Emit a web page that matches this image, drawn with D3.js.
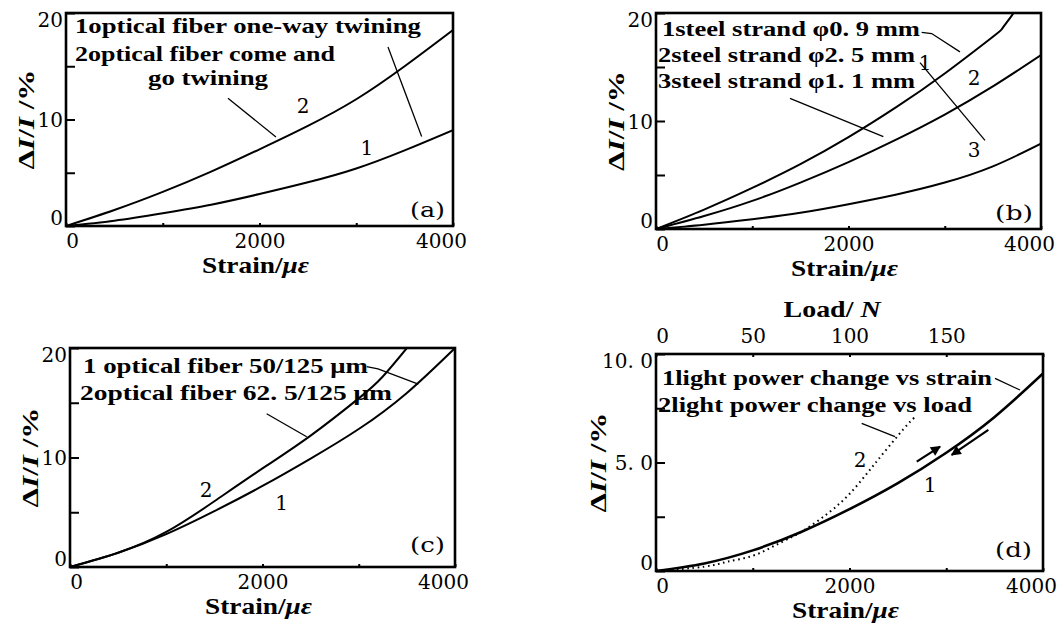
<!DOCTYPE html>
<html lang="en">
<head>
<meta charset="utf-8">
<title>Light power change vs strain</title>
<script src="https://cdnjs.cloudflare.com/ajax/libs/d3/7.8.5/d3.min.js"></script>
<style>
  body { margin: 0; background: #fff; }
  text { font-family: "DejaVu Serif", "Liberation Serif", serif; fill: #000; }
  .lg { font-family: "Liberation Serif", serif; font-weight: bold; }
</style>
</head>
<body>
<svg width="1064" height="626"></svg>
<script>
// strain samples (micro strain)
var strain = [0, 500, 1000, 1500, 2000, 2500, 3000, 3500, 4000];

// (a) optical fiber twining
var oneWay = [0, 0.5, 1.2, 2.0, 3.0, 4.1, 5.4, 7.1, 9.0];
var comeGo = [0, 1.5, 3.2, 5.1, 7.2, 9.4, 11.9, 15.0, 18.4];

// (b) steel strands
var strainB1 = [0, 500, 1000, 1500, 2000, 2500, 3000, 3500, 3600, 3700, 3750];
var strand09 = [0, 1.8, 3.8, 6.0, 8.5, 11.3, 14.4, 17.8, 18.6, 19.8, 20.6];
var strand25 = [0, 1.2, 2.6, 4.3, 6.2, 8.3, 10.6, 13.2, 16.1];
var strand11 = [0, 0.4, 0.9, 1.5, 2.3, 3.2, 4.3, 5.8, 7.9];

// (c) fiber types
var fiber50 = [0, 1.3, 3.0, 5.1, 7.4, 9.9, 12.6, 15.9, 20.0];
var strainC2 = [0, 500, 1000, 1500, 2000, 2500, 3000, 3250, 3500, 3600];
var fiber625 = [0, 1.3, 3.2, 6.0, 9.0, 12.0, 15.4, 17.4, 20.0, 21.1];

// (d) light power vs strain and vs load
var powerStrain = [0, 0.35, 0.95, 1.8, 2.85, 4.05, 5.45, 7.1, 9.1];
var load = [0, 25, 37, 50, 62, 75, 89, 100, 110, 120, 130, 134];
var powerLoad = [0, 0.2, 0.43, 0.7, 1.2, 1.8, 2.67, 3.55, 4.6, 5.7, 6.75, 7.1];

// ticks
var xTicks = [0, 1000, 2000, 3000, 4000];
var xLabels = [0, 2000, 4000];
var yTicks = [0, 5, 10, 15, 20];
var yLabels = [0, 10, 20];
var dTicks = [0, 2.5, 5, 7.5, 10];
var dLabels = {0: "0", 5: "5. 0", 10: "10. 0"};
var loadTicks = [0, 50, 100, 150, 200];
var loadLabels = [0, 50, 100, 150];

var svg = d3.select("svg");

var defs = svg.append("defs");
defs.append("marker")
    .attr("id", "head")
    .attr("viewBox", "0 0 10 10")
    .attr("refX", 9).attr("refY", 5)
    .attr("markerUnits", "userSpaceOnUse")
    .attr("markerWidth", 14).attr("markerHeight", 10)
    .attr("orient", "auto")
  .append("path")
    .attr("d", "M0,0 L10,5 L0,10 z")
    .attr("fill", "#000");

function zip(xs, ys) {
  return ys.map(function(v, i) { return [xs[i], v]; });
}

function panel(id, box, ymax, ticks, fmt, titleOff) {
  var x = d3.scaleLinear().domain([0, 4000]).range([box[0], box[2]]);
  var y = d3.scaleLinear().domain([0, ymax]).range([box[3], box[1]]);
  var g = svg.append("g");

  defs.append("clipPath").attr("id", "clip" + id)
    .append("rect")
      .attr("x", box[0]).attr("y", box[1])
      .attr("width", box[2] - box[0]).attr("height", box[3] - box[1]);

  // x axis
  var xa = g.append("g")
      .attr("transform", "translate(0," + box[3] + ")")
      .call(d3.axisBottom(x).tickValues(xTicks).tickSize(-3).tickPadding(8)
        .tickFormat(function(d) { return xLabels.indexOf(d) >= 0 ? d : ""; }));
  xa.attr("font-family", null).attr("font-size", 20);
  xa.select(".domain").remove();
  xa.selectAll(".tick line").attr("stroke-width", 2);
  xa.selectAll(".tick text")
      .attr("dx", function(d) { return d == 0 ? 6 : d == 4000 ? -12 : 0; });

  // y axis
  var ya = g.append("g")
      .attr("transform", "translate(" + box[0] + ",0)")
      .call(d3.axisLeft(y).tickValues(ticks).tickSize(-9).tickPadding(3)
        .tickFormat(fmt));
  ya.attr("font-family", null).attr("font-size", 20);
  ya.select(".domain").remove();
  ya.selectAll(".tick line").attr("stroke-width", 2);
  ya.selectAll(".tick text")
      .attr("dy", function(d) { return d == 0 ? "-0.1em" : d == ymax ? "0.65em" : "0.35em"; });

  // axis titles
  g.append("text")
      .attr("class", "lg")
      .attr("x", (box[0] + box[2]) / 2 - 4)
      .attr("y", box[3] + 47)
      .attr("text-anchor", "middle")
      .attr("font-size", 23)
      .attr("textLength", 107)
      .attr("lengthAdjust", "spacingAndGlyphs")
      .text("Strain/")
    .append("tspan").attr("font-style", "italic").text("με");

  var yt = g.append("text")
      .attr("class", "lg")
      .attr("transform", "translate(" + (box[0] - titleOff) + "," + ((box[1] + box[3]) / 2) + ") rotate(-90)")
      .attr("text-anchor", "middle")
      .attr("font-size", 23)
      .attr("textLength", 100)
      .attr("lengthAdjust", "spacingAndGlyphs");
  yt.append("tspan").text("Δ");
  yt.append("tspan").attr("font-style", "italic").text("I");
  yt.append("tspan").text("/");
  yt.append("tspan").attr("font-style", "italic").text("I");
  yt.append("tspan").text(" /%");

  return {x: x, y: y, g: g, box: box, id: id};
}

function curve(p, pts, width, dash) {
  var line = d3.line()
      .x(function(d) { return p.x(d[0]); })
      .y(function(d) { return p.y(d[1]); })
      .curve(d3.curveNatural);
  p.g.append("path")
      .attr("clip-path", "url(#clip" + p.id + ")")
      .attr("d", line(pts))
      .attr("fill", "none")
      .attr("stroke", "#000")
      .attr("stroke-width", width)
      .attr("stroke-dasharray", dash || null);
}

function frame(p) {
  var b = p.box;
  p.g.append("rect")
      .attr("x", b[0]).attr("y", b[1])
      .attr("width", b[2] - b[0]).attr("height", b[3] - b[1])
      .attr("fill", "none").attr("stroke", "#000").attr("stroke-width", 2.6);
}

function leader(p, pts, arrow) {
  p.g.append("path")
      .attr("d", d3.line().x(function(d) { return p.x(d[0]); }).y(function(d) { return p.y(d[1]); })(pts))
      .attr("fill", "none").attr("stroke", "#000")
      .attr("stroke-width", arrow ? 2.2 : 1.3)
      .attr("marker-end", arrow ? "url(#head)" : null);
}

function label(p, s, v, str, anchor, size, len, cls) {
  var t = p.g.append("text")
      .attr("class", cls || null)
      .attr("x", p.x(s)).attr("y", p.y(v))
      .attr("text-anchor", anchor || "middle")
      .attr("font-size", size || 20)
      .text(str);
  if (len) t.attr("textLength", len).attr("lengthAdjust", "spacingAndGlyphs");
  return t;
}

function legend(p, s, v, str, len) {
  return label(p, s, v, str, "start", 21, len, "lg");
}

var fmt20 = function(d) { return yLabels.indexOf(d) >= 0 ? d : ""; };

// ---- (a)
var pa = panel("a", [66, 13, 453, 226], 20, yTicks, fmt20, 32);
curve(pa, zip(strain, oneWay), 2);
curve(pa, zip(strain, comeGo), 2);
legend(pa, 93, 18.1, "1optical fiber one-way twining", 346);
legend(pa, 93, 15.5, "2optical fiber come and", 260);
legend(pa, 848, 13.2, "go twining", 120);
leader(pa, [[3328, 16.8], [3676, 8.4]]);
leader(pa, [[1674, 12.0], [2170, 8.36]]);
label(pa, 2450, 10.6, "2");
label(pa, 3111, 6.7, "1");
label(pa, 3917, 0.85, "(a)", "end", 20, 35);
frame(pa);

// ---- (b)
var pb = panel("b", [656, 13, 1041, 229], 20, yTicks, fmt20, 32);
curve(pb, zip(strainB1, strand09), 2);
curve(pb, zip(strain, strand25), 2);
curve(pb, zip(strain, strand11), 2);
legend(pb, 62, 17.9, "1steel strand φ0. 9 mm", 258);
legend(pb, 21, 15.5, "2steel strand φ2. 5 mm", 257);
legend(pb, 21, 13.1, "3steel strand φ1. 1 mm", 257);
leader(pb, [[2760, 18.2], [2864, 18.1], [3158, 16.4]]);
leader(pb, [[2743, 15.4], [3418, 8.2]]);
leader(pb, [[1392, 12.1], [2362, 8.55]]);
label(pb, 2795, 14.7, "1");
label(pb, 3304, 13.3, "2");
label(pb, 3304, 6.7, "3");
label(pb, 3917, 0.83, "(b)", "end", 20, 38);
frame(pb);

// ---- (c)
var pc = panel("c", [70, 348, 455, 567], 20, yTicks, fmt20, 32);
curve(pc, zip(strain, fiber50), 2);
curve(pc, zip(strainC2, fiber625), 2);
legend(pc, 135, 17.7, "1 optical fiber 50/125 μm", 285);
legend(pc, 104, 15.25, "2optical fiber 62. 5/125 μm", 312);
leader(pc, [[3082, 18.3], [3200, 18.1], [3619, 16.7]]);
leader(pc, [[2043, 14.0], [2459, 11.9]]);
label(pc, 1413, 6.4, "2");
label(pc, 2199, 5.2, "1");
label(pc, 3896, 1.4, "(c)", "end", 20, 35);
frame(pc);

// ---- (d)
var pd = panel("d", [656, 354, 1043, 571], 10, dTicks,
  function(d) { return dLabels[d] || ""; }, 50);
var loadX = d3.scaleLinear().domain([0, 200]).range([pd.box[0], pd.box[2]]);
var ta = pd.g.append("g")
    .attr("transform", "translate(0," + pd.box[1] + ")")
    .call(d3.axisTop(loadX).tickValues(loadTicks).tickSize(-3).tickPadding(11)
      .tickFormat(function(d) { return loadLabels.indexOf(d) >= 0 ? d : ""; }));
ta.attr("font-family", null).attr("font-size", 20);
ta.select(".domain").remove();
ta.selectAll(".tick line").attr("stroke-width", 2);
ta.selectAll(".tick text").attr("dx", function(d) { return d == 0 ? 6 : 0; });
var lt = pd.g.append("text")
    .attr("class", "lg")
    .attr("x", loadX(91)).attr("y", pd.box[1] - 37)
    .attr("text-anchor", "middle").attr("font-size", 23)
    .attr("textLength", 97).attr("lengthAdjust", "spacingAndGlyphs")
    .text("Load/ ");
lt.append("tspan").attr("font-style", "italic").text("N");

curve(pd, zip(strain, powerStrain), 2.6);
var pdLoad = {x: loadX, y: pd.y, g: pd.g, box: pd.box, id: "d"};
curve(pdLoad, zip(load, powerLoad), 2, "1.6 3.6");
legend(pd, 62, 8.57, "1light power change vs strain", 330);
legend(pd, 21, 7.34, "2light power change vs load", 314);
leader(pd, [[3504, 8.88], [3762, 8.34]]);
leader(pd, [[2126, 6.8], [2470, 6.19]]);
leader(pd, [[2695, 5.04], [2936, 5.73]], true);
leader(pd, [[3435, 6.5], [3056, 5.35]], true);
label(pd, 2109, 4.8, "2");
label(pd, 2832, 3.65, "1");
label(pd, 3886, 0.66, "(d)", "end", 20, 37);
frame(pd);
</script>
</body>
</html>
